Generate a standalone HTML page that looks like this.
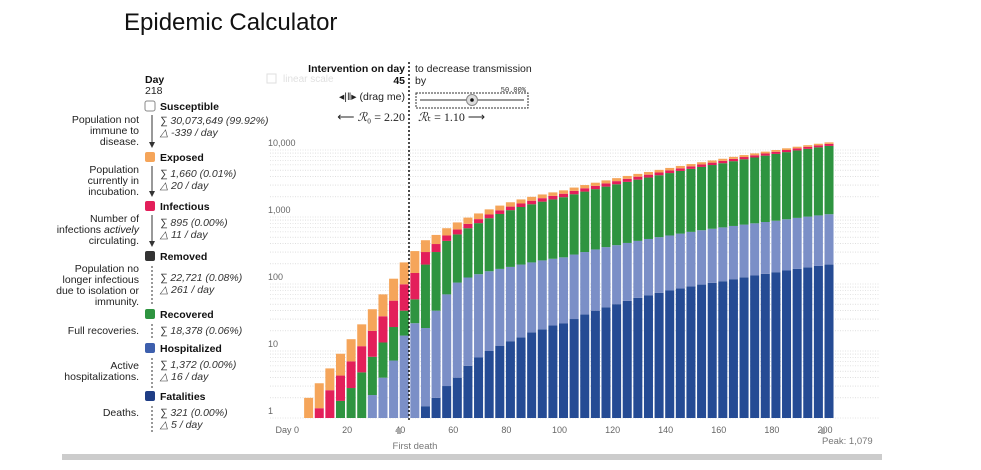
<!DOCTYPE html>
<html><head><meta charset="utf-8">
<style>
html,body{margin:0;padding:0;background:#fff;}
svg{display:block;font-family:"Liberation Sans",sans-serif;}
.lbl{font-size:10.5px;fill:#222;text-anchor:end;}
.hd{font-size:10.5px;font-weight:bold;fill:#111;}
.st{font-size:10.5px;font-style:italic;fill:#333;}
.tk{font-size:9px;fill:#666;}
</style></head>
<body>
<svg id="chart" width="981" height="470" viewBox="0 0 981 470">
<text x="124" y="30" font-size="24" fill="#111">Epidemic Calculator</text>

<!-- left panel -->
<g>
<text x="145" y="83" class="hd">Day</text>
<text x="145" y="94" font-size="10.5" fill="#222">218</text>

<rect x="145" y="101" width="10" height="10" rx="2" fill="#fff" stroke="#888"/>
<text x="160" y="110" class="hd">Susceptible</text>
<text x="139" y="123" class="lbl"><tspan x="139">Population not</tspan><tspan x="139" dy="11">immune to</tspan><tspan x="139" dy="11">disease.</tspan></text>
<text x="160" y="124" class="st"><tspan x="160">∑ 30,073,649 (99.92%)</tspan><tspan x="160" dy="12">△ -339 / day</tspan></text>
<line x1="152" y1="115" x2="152" y2="145" stroke="#333"/><path d="M149,142 L152,148 L155,142Z" fill="#333"/>

<rect x="145" y="152" width="10" height="10" rx="2" fill="#f5a55a"/>
<text x="160" y="161" class="hd">Exposed</text>
<text x="139" y="173" class="lbl"><tspan x="139">Population</tspan><tspan x="139" dy="11">currently in</tspan><tspan x="139" dy="11">incubation.</tspan></text>
<text x="160" y="177" class="st"><tspan x="160">∑ 1,660 (0.01%)</tspan><tspan x="160" dy="12">△ 20 / day</tspan></text>
<line x1="152" y1="166" x2="152" y2="194" stroke="#333"/><path d="M149,191 L152,197 L155,191Z" fill="#333"/>

<rect x="145" y="201" width="10" height="10" rx="2" fill="#e31f5a"/>
<text x="160" y="210" class="hd">Infectious</text>
<text x="139" y="222" class="lbl"><tspan x="139">Number of</tspan><tspan x="139" dy="11">infections <tspan font-style="italic">actively</tspan></tspan><tspan x="139" dy="11">circulating.</tspan></text>
<text x="160" y="226" class="st"><tspan x="160">∑ 895 (0.00%)</tspan><tspan x="160" dy="12">△ 11 / day</tspan></text>
<line x1="152" y1="215" x2="152" y2="244" stroke="#333"/><path d="M149,241 L152,247 L155,241Z" fill="#333"/>

<rect x="145" y="251" width="10" height="10" rx="2" fill="#333"/>
<text x="160" y="260" class="hd">Removed</text>
<text x="139" y="272" class="lbl"><tspan x="139">Population no</tspan><tspan x="139" dy="11">longer infectious</tspan><tspan x="139" dy="11">due to isolation or</tspan><tspan x="139" dy="11">immunity.</tspan></text>
<text x="160" y="281" class="st"><tspan x="160">∑ 22,721 (0.08%)</tspan><tspan x="160" dy="12">△ 261 / day</tspan></text>
<line x1="152" y1="266" x2="152" y2="305" stroke="#333" stroke-dasharray="2,2"/>

<rect x="145" y="309" width="10" height="10" rx="2" fill="#2e9440"/>
<text x="160" y="318" class="hd">Recovered</text>
<text x="139" y="334" class="lbl">Full recoveries.</text>
<text x="160" y="334" class="st">∑ 18,378 (0.06%)</text>
<line x1="152" y1="324" x2="152" y2="340" stroke="#333" stroke-dasharray="2,2"/>

<rect x="145" y="343" width="10" height="10" rx="2" fill="#3d5fad"/>
<text x="160" y="352" class="hd">Hospitalized</text>
<text x="139" y="369" class="lbl"><tspan x="139">Active</tspan><tspan x="139" dy="11">hospitalizations.</tspan></text>
<text x="160" y="368" class="st"><tspan x="160">∑ 1,372 (0.00%)</tspan><tspan x="160" dy="12">△ 16 / day</tspan></text>
<line x1="152" y1="358" x2="152" y2="388" stroke="#333" stroke-dasharray="2,2"/>

<rect x="145" y="391" width="10" height="10" rx="2" fill="#1f3d85"/>
<text x="160" y="400" class="hd">Fatalities</text>
<text x="139" y="416" class="lbl">Deaths.</text>
<text x="160" y="416" class="st"><tspan x="160">∑ 321 (0.00%)</tspan><tspan x="160" dy="12">△ 5 / day</tspan></text>
<line x1="152" y1="406" x2="152" y2="434" stroke="#333" stroke-dasharray="2,2"/>
</g>

<!-- linear scale toggle -->
<g opacity="0.3">
<rect x="267" y="74" width="9" height="9" fill="#fff" stroke="#999"/>
<text x="283" y="82" font-size="10" fill="#999">linear scale</text>
</g>

<!-- intervention controls -->
<g>
<text x="405" y="72" class="hd" text-anchor="end">Intervention on day</text>
<text x="405" y="84" class="hd" text-anchor="end">45</text>
<text x="405" y="100" font-size="10.5" fill="#222" text-anchor="end">◂|‖▸ (drag me)</text>
<text x="405" y="121" font-size="12" font-family="Liberation Serif,serif" fill="#222" text-anchor="end">⟵ <tspan font-style="italic">ℛ</tspan>₀ = 2.20</text>
<text x="415" y="72" font-size="10.5" fill="#222">to decrease transmission</text>
<text x="415" y="84" font-size="10.5" fill="#222">by</text>
<text x="526" y="92" font-size="7" font-family="Liberation Mono,monospace" fill="#333" text-anchor="end">50.00%</text>
<rect x="416" y="93" width="112" height="15" fill="#fff" stroke="#333" stroke-dasharray="2,1"/>
<line x1="420" y1="100" x2="524" y2="100" stroke="#333"/>
<circle cx="472" cy="100" r="5.5" fill="#ddd" stroke="#888"/>
<circle cx="472" cy="100" r="1.8" fill="#111"/>
<text x="418" y="121" font-size="12" font-family="Liberation Serif,serif" fill="#222"><tspan font-style="italic">ℛ</tspan>ₜ = 1.10 ⟶</text>
</g>

<g id="grid"></g>
<g id="bars"></g>
<g id="axes"></g>

<line x1="409" y1="62" x2="409" y2="420" stroke="#111" stroke-width="1.5" stroke-dasharray="2,2"/>

<rect x="397" y="428" width="4" height="6" fill="#aaa"/>
<text x="415" y="449" font-size="9.5" fill="#777" text-anchor="middle">First death</text>
<rect x="821" y="428" width="4" height="6" fill="#aaa"/>
<text x="822" y="444" font-size="9.5" fill="#777">Peak: 1,079</text>
<rect x="62" y="454" width="820" height="6" fill="#ccc"/>
</svg>
<script>
const days = [0,4,8,12,16,20,24,28,32,36,40,44,48,52,56,60,64,68,72,76,80,84,88,92,96,100,104,108,112,116,120,124,128,132,136,140,144,148,152,156,160,164,168,172,176,180,184,188,192,196,200];
const fatalities = [0,0,0,0,0,0,0,0,0,0,0,0, 1.5,2,3,4,6,8,10,12,14,16,19,21,24,26,30,35,40,45,50,56,62,68,74,80,86,92,98,104,110,118,126,134,142,150,159,168,177,186,195];
const hospitalized = [0,0,0,0,0,0,1,2.2,4,7.2,17,26, 20.5,38,67,101,119,132,145,156,166,179,191,204,214,224,245,265,288,310,330,354,378,402,426,450,479,508,537,564,590,617,644,671,700,730,766,802,836,870,905];
const recovered = [0,0,0,1.0,1.8,2.8,3.8,6,9.4,15.6,23,33, 173,260,370,445,555,670,805,942,1085,1215,1340,1470,1592,1725,1910,2095,2277,2485,2700,2935,3170,3410,3700,3995,4305,4625,4955,5297,5650,6075,6500,6925,7393,7860,8370,8880,9387,9894,10400];
const infectious = [0,0,1.4,1.6,2.5,4.2,7,11.8,19.6,33.6,59,87, 105,95,90,100,110,120,130,150,165,180,200,215,235,250,270,290,310,330,350,370,390,405,420,435,455,475,495,515,535,560,585,610,640,670,700,730,765,800,835];
const exposed = [1,2,1.9,2.9,4.8,8,13.2,22,37,63.6,111,164, 150,145,150,180,190,200,210,220,230,240,250,260,265,275,295,315,335,350,370,385,400,415,430,440,455,470,485,500,515,530,545,560,575,590,605,620,635,650,665];
const yTicks = [1,10,100,1000,10000];
const yTickLabels = ["1","10","100","1,000","10,000"];
const xTicks = [0,20,40,60,80,100,120,140,160,180,200];
const xTickLabels = ["Day 0","20","40","60","80","100","120","140","160","180","200"];

const NS = "http://www.w3.org/2000/svg";
const X0 = 294, XS = 2.655, Y0 = 418, DEC = 67;
function xs(d){ return X0 + d*XS; }
function ys(v){ return Y0 - DEC*Math.log10(Math.max(1,v)); }
function mk(tag, attrs, parent){ const e=document.createElementNS(NS,tag); for(const k in attrs) e.setAttribute(k,attrs[k]); parent.appendChild(e); return e; }

const grid = document.getElementById('grid');
for (let p=0; p<5; p++) for (let k=1; k<=9; k++) {
  if (p===4 && k>1) break;
  const v = k*Math.pow(10,p);
  const ln = mk('line',{x1:270,x2:880,y1:ys(v),y2:ys(v),stroke:'#ccc','stroke-width':0.6,'stroke-dasharray':'1,1.5'},grid);
  
  
}
const axes = document.getElementById('axes');
yTicks.forEach((v,i)=>{
  const t = mk('text',{x:268,y:ys(v)-4,class:'tk'},axes);
  t.textContent = yTickLabels[i];
  
  
});
xTicks.forEach((d,i)=>{
  const t = mk('text',{x:i===0?xs(d)+5:xs(d),y:433,class:'tk','text-anchor':i===0?'end':'middle'},axes);
  t.textContent = xTickLabels[i];
  
  
});

const series = [
  {name:'fatalities', vals:fatalities, color:'#254b94'},
  {name:'hospitalized', vals:hospitalized, color:'#7b8fc7'},
  {name:'recovered', vals:recovered, color:'#2e9440'},
  {name:'infectious', vals:infectious, color:'#e31f5a'},
  {name:'exposed', vals:exposed, color:'#f5a55a'}
];
const bars = document.getElementById('bars');
const BW = 4*XS - 1.6;
days.forEach((d,i)=>{
  let cum = 0;
  series.forEach(s=>{
    const lo = cum; cum += s.vals[i];
    const yt = ys(cum), yb = ys(lo);
    if (yb - yt <= 0.01) return;
    const r = mk('rect',{x:xs(d)-0.5, y:yt, width:BW, height:yb-yt, fill:s.color},bars);
    
    
  });
});
</script>
</body></html>
